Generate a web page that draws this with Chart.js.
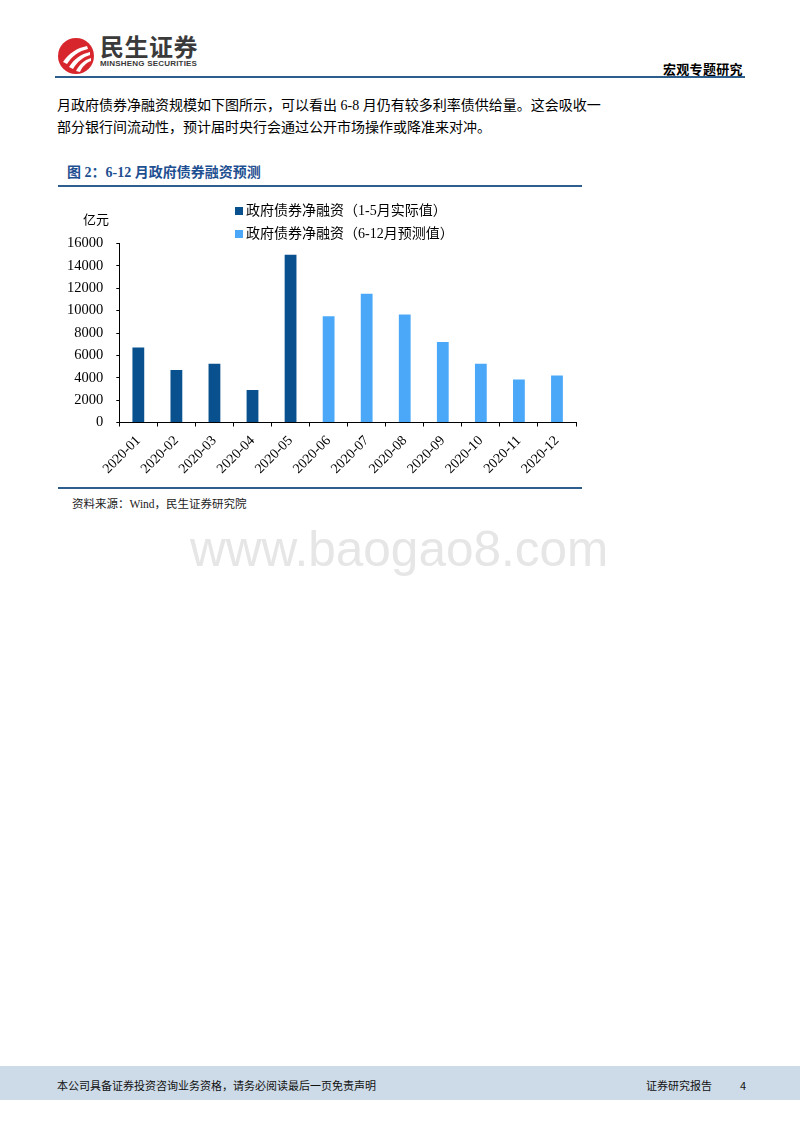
<!DOCTYPE html>
<html>
<head>
<meta charset="utf-8">
<script src="https://cdn.jsdelivr.net/npm/chart.js@4/dist/chart.umd.min.js"></script>
<style>
  html, body { margin: 0; padding: 0; background: #fff; }
  body { width: 800px; height: 1132px; position: relative; overflow: hidden;
         font-family: "Liberation Serif", "Noto Sans CJK SC", serif; color: #000; }
  .abs { position: absolute; white-space: nowrap; }
  #brand { left: 100px; top: 34px; font: 700 24px/24px "Noto Sans CJK SC", sans-serif; color: #3a3a3a; letter-spacing: 0.5px; }
  #brandEn { left: 100px; top: 60px; font: 700 8px/8px "Liberation Sans", sans-serif; color: #3a3a3a; letter-spacing: 0.2px; }
  #topRule { left: 55px; top: 76px; width: 690px; height: 0; border-top: 2.5px solid #2d5d8c; }
  #section { left: 663px; top: 59px; font: 700 13px "Noto Sans CJK SC", sans-serif; letter-spacing: 0.3px; }
  .body { left: 57px; font-size: 14px; line-height: 20px; }
  #figTitle { left: 67px; top: 161px; font-size: 14px; font-weight: 700; color: #1e4f91; }
  .rule { left: 58px; width: 524px; height: 0; border-top: 2px solid #2e5e8e; }
  #source { left: 72px; top: 495px; font-size: 11.5px; color: #222; }
  #chartBox { left: 60px; top: 195px; width: 530px; height: 290px; }
  #watermark { left: 190px; top: 520px; font: 49.5px "Liberation Sans", sans-serif; color: #e6e6e6; }
  #footer { left: 0; top: 1066px; width: 800px; height: 34px; background: #cddbe8; }
  .foot { top: 1077px; font: 11px "Noto Sans CJK SC", sans-serif; color: #111; }
</style>
</head>
<body>
<svg class="abs" style="left:57px;top:37px" width="38" height="38" viewBox="0 0 38 38">
  <circle cx="19" cy="19" r="18" fill="#d8262d"/>
  <path d="M6 25 C12 16 20 11 30 9 L31 12 C22 14 15 19 10 27 Z" fill="#fff"/>
  <path d="M12 30 C17 22 24 17 33 15 L33 18 C26 20 20 25 16 32 Z" fill="#fff"/>
  <path d="M19 34 C22 28 27 23 34 21 L34 24 C29 26 25 30 23 35 Z" fill="#fff"/>
</svg>
<div id="brand" class="abs">民生证券</div>
<div id="brandEn" class="abs">MINSHENG SECURITIES</div>
<div id="section" class="abs">宏观专题研究</div>
<div id="topRule" class="abs"></div>

<div class="abs body" style="top:96px">月政府债券净融资规模如下图所示，可以看出 6-8 月仍有较多利率债供给量。这会吸收一</div>
<div class="abs body" style="top:118px">部分银行间流动性，预计届时央行会通过公开市场操作或降准来对冲。</div>

<div id="figTitle" class="abs">图 2：6-12 月政府债券融资预测</div>
<div class="abs rule" style="top:185px"></div>

<div id="chartBox" class="abs"><canvas id="bondChart" width="530" height="290"></canvas></div>

<div class="abs rule" style="top:487px"></div>
<div id="source" class="abs">资料来源：Wind，民生证券研究院</div>

<div id="watermark" class="abs">www.baogao8.com</div>

<div id="footer" class="abs"></div>
<div class="abs foot" style="left:57px">本公司具备证券投资咨询业务资格，请务必阅读最后一页免责声明</div>
<div class="abs foot" style="left:646px">证券研究报告</div>
<div class="abs foot" style="left:740px">4</div>

<script>
// Chart data
const months = ['2020-01', '2020-02', '2020-03', '2020-04', '2020-05', '2020-06',
                '2020-07', '2020-08', '2020-09', '2020-10', '2020-11', '2020-12'];
const actualValues = [6700, 4700, 5250, 2900, 15000, null, null, null, null, null, null, null];
const forecastValues = [null, null, null, null, null, 9500, 11500, 9650, 7200, 5250, 3850, 4200];
const seriesNames = ['政府债券净融资（1-5月实际值）', '政府债券净融资（6-12月预测值）'];
const yTicks = [0, 2000, 4000, 6000, 8000, 10000, 12000, 14000, 16000];
const unitLabel = '亿元';

const serifFont = '"Liberation Serif", "Noto Sans CJK SC", serif';

// Legend stacked in two rows, plus the unit label above the y axis
const sideLegend = {
    id: 'sideLegend',
    afterDraw(chart) {
        const ctx = chart.ctx;
        ctx.save();
        ctx.font = '14px ' + serifFont;
        ctx.textBaseline = 'middle';
        chart.data.datasets.forEach((ds, i) => {
            const y = 16 + i * 23;
            ctx.fillStyle = ds.backgroundColor;
            ctx.fillRect(175, y - 4, 8, 8);
            ctx.fillStyle = '#000';
            ctx.fillText(ds.label, 186, y);
        });
        ctx.font = '13px ' + serifFont;
        ctx.fillText(unitLabel, 23, 26);
        ctx.restore();
    }
};

const ctx = document.getElementById('bondChart').getContext('2d');
const bondChart = new Chart(ctx, {
    type: 'bar',
    data: {
        labels: months,
        datasets: [
            { label: seriesNames[0], data: actualValues, backgroundColor: '#08508e' },
            { label: seriesNames[1], data: forecastValues, backgroundColor: '#4ba8f8' }
        ]
    },
    options: {
        responsive: false,
        devicePixelRatio: 1,
        animation: false,
        grouped: false,
        barPercentage: 0.31,
        categoryPercentage: 1,
        layout: { padding: { top: 48.5, right: 14, left: 0, bottom: 0 } },
        plugins: { legend: { display: false }, tooltip: { enabled: false } },
        scales: {
            x: {
                grid: { drawOnChartArea: false, color: '#000', tickLength: 4, offset: true },
                border: { color: '#000', width: 1 },
                ticks: {
                    color: '#000', font: { family: serifFont, size: 14 },
                    minRotation: 45, maxRotation: 45, autoSkip: false, padding: 6
                },
                afterFit(scale) { scale.height = 62.5; }
            },
            y: {
                min: 0, max: 16000,
                grid: { drawOnChartArea: false, color: '#000', tickLength: 3 },
                border: { color: '#000', width: 1 },
                afterBuildTicks(scale) { scale.ticks = yTicks.map(v => ({ value: v })); },
                ticks: {
                    color: '#000', font: { family: serifFont, size: 14.5 }, padding: 13,
                    callback: (value) => String(value)
                },
                afterFit(scale) { scale.width = 59.3; }
            }
        }
    },
    plugins: [sideLegend]
});
</script>
</body>
</html>
